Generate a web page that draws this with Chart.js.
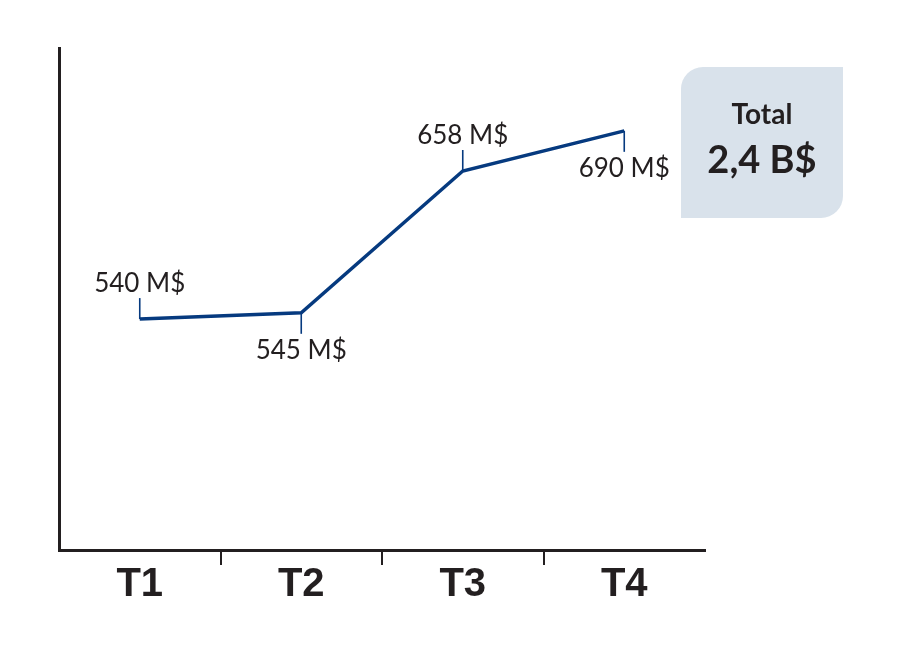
<!DOCTYPE html>
<html>
<head>
<meta charset="utf-8">
<script src="https://cdn.jsdelivr.net/npm/chart.js@4.4.1/dist/chart.umd.min.js"></script>
<style>
  html, body { margin: 0; padding: 0; background: #ffffff; }
  #wrap { width: 901px; height: 649px; }
</style>
</head>
<body>
<div id="wrap"><canvas id="c" width="901" height="649"></canvas></div>
<script>
const categories = ['T1', 'T2', 'T3', 'T4'];
const revenue = [540, 545, 658, 690];
const valueLabels = ['540 M$', '545 M$', '658 M$', '690 M$'];
const totalTitle = 'Total';
const totalValue = '2,4 B$';

const INK = '#231f20';
const LINE = '#063a7f';

const labelPlugin = {
  id: 'valueLabels',
  afterDatasetsDraw(chart) {
    const ctx = chart.ctx;
    const meta = chart.getDatasetMeta(0);
    ctx.save();
    ctx.strokeStyle = LINE;
    ctx.lineWidth = 1.6;
    ctx.fillStyle = INK;
    ctx.font = '26px Lato';
    ctx.textAlign = 'center';
    ctx.textBaseline = 'alphabetic';
    meta.data.forEach((pt, i) => {
      const up = i % 2 === 0;
      const x = pt.x, y = pt.y;
      const y2 = up ? y - 21 : y + 21;
      ctx.beginPath();
      ctx.moveTo(x, y);
      ctx.lineTo(x, y2);
      ctx.stroke();
      ctx.fillText(valueLabels[i], x, up ? y2 - 6 : y2 + 25);
    });
    ctx.restore();
  }
};

const totalPlugin = {
  id: 'totalBox',
  afterDraw(chart) {
    const ctx = chart.ctx;
    const x0 = chart.chartArea.right - 24, y0 = 67, w = 162, h = 151, r = 22;
    ctx.save();
    ctx.fillStyle = '#d9e2eb';
    ctx.beginPath();
    ctx.roundRect(x0, y0, w, h, [r, 0, r, 0]);
    ctx.fill();
    ctx.fillStyle = INK;
    ctx.textAlign = 'center';
    ctx.textBaseline = 'alphabetic';
    ctx.font = 'bold 28px Lato';
    ctx.fillText(totalTitle, x0 + w / 2, 124);
    ctx.font = 'bold 38px Lato';
    ctx.fillText(totalValue, x0 + w / 2, 173);
    ctx.restore();
  }
};

new Chart(document.getElementById('c'), {
  type: 'line',
  data: {
    labels: categories,
    datasets: [{
      data: revenue,
      borderColor: LINE,
      borderWidth: 3.5,
      pointRadius: 0,
      tension: 0,
      fill: false
    }]
  },
  options: {
    responsive: false,
    animation: false,
    devicePixelRatio: 1,
    layout: { padding: { left: 59, right: 196, top: 48, bottom: 0 } },
    plugins: { legend: { display: false }, tooltip: { enabled: false } },
    scales: {
      x: {
        offset: true,
        grid: {
          offset: true,
          drawOnChartArea: false,
          drawTicks: true,
          tickLength: 15,
          lineWidth: 2,
          color: (c) => (c.index === undefined || c.index === 0) ? 'rgba(0,0,0,0)' : INK
        },
        border: { display: true, color: INK, width: 3 },
        ticks: {
          color: INK,
          padding: 0,
          font: { family: 'Liberation Sans', weight: 'bold', size: 40, lineHeight: 1 }
        },
        afterFit(s) { s.height = 99; }
      },
      y: {
        min: 356,
        max: 756,
        grid: { display: false, drawTicks: false },
        border: { display: true, color: INK, width: 3 },
        ticks: { display: false },
        afterFit(s) { s.width = 0; }
      }
    }
  },
  plugins: [labelPlugin, totalPlugin]
});
</script>
</body>
</html>
